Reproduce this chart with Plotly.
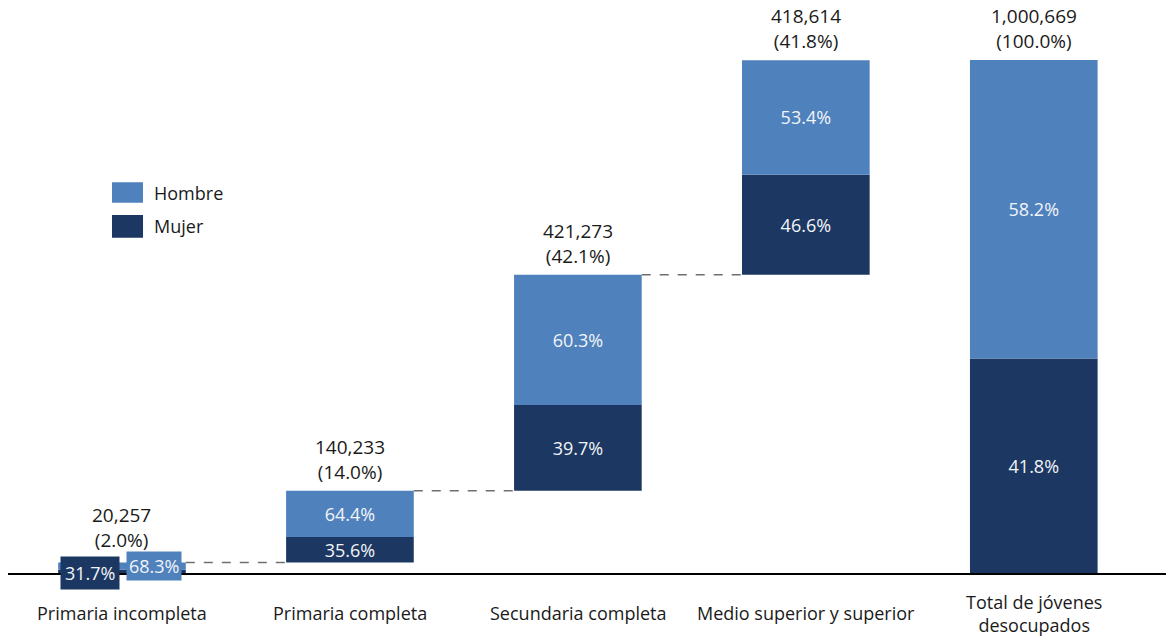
import plotly.graph_objects as go

categories = ["Primaria incompleta", "Primaria completa", "Secundaria completa",
              "Medio superior y superior", "Total de jóvenes<br>desocupados"]
totals = [20257, 140233, 421273, 418614, 1000669]
share_of_total = [2.0, 14.0, 42.1, 41.8, 100.0]
mujer_pct = [31.7, 35.6, 39.7, 46.6, 41.8]
hombre_pct = [68.3, 64.4, 60.3, 53.4, 58.2]

LIGHT = "#4F81BD"
DARK = "#1C3862"
FONT = "Open Sans"
TXT = "#1a1a1a"
INTXT = "#f2f4f8"
BW = 0.56

n = len(categories)
xs = list(range(n))

# waterfall bases: running sum for the components, zero for the total
bases = []
run = 0
for i in range(n):
    if i == n - 1:
        bases.append(0)
    else:
        bases.append(run)
        run += totals[i]

mujer_vals = [t * p / 100 for t, p in zip(totals, mujer_pct)]
hombre_vals = [t * p / 100 for t, p in zip(totals, hombre_pct)]
hombre_base = [b + m for b, m in zip(bases, mujer_vals)]
tops = [b + t for b, t in zip(bases, totals)]

fig = go.Figure()
fig.add_trace(go.Bar(
    x=xs, y=mujer_vals, base=bases, width=BW, name="Mujer",
    marker=dict(color=DARK, line=dict(width=0)),
    text=[f"{p:.1f}%" for p in mujer_pct],
    textposition=["none"] + ["inside"] * (n - 1),
    insidetextanchor="middle",
    textfont=dict(color=INTXT, size=18, family=FONT),
    showlegend=False, hoverinfo="skip",
))
fig.add_trace(go.Bar(
    x=xs, y=hombre_vals, base=hombre_base, width=BW, name="Hombre",
    marker=dict(color=LIGHT, line=dict(width=0)),
    text=[f"{p:.1f}%" for p in hombre_pct],
    textposition=["none"] + ["inside"] * (n - 1),
    insidetextanchor="middle",
    textfont=dict(color=INTXT, size=18, family=FONT),
    showlegend=False, hoverinfo="skip",
))

annotations = []
shapes = []

# labels above each bar
for i in range(n):
    annotations.append(dict(
        x=xs[i], y=tops[i], xref="x", yref="y", yanchor="bottom",
        text=f"{totals[i]:,}<br>({share_of_total[i]:.1f}%)",
        showarrow=False, yshift=8 if i == 0 else 4,
        font=dict(size=19, family=FONT, color=TXT),
    ))

# category labels
for i in range(n):
    annotations.append(dict(
        x=xs[i], y=-0.07, xref="x", yref="paper", yanchor="middle",
        text=categories[i], showarrow=False,
        font=dict(size=18, family=FONT, color=TXT),
    ))

# small first bar: boxed labels
annotations.append(dict(
    x=xs[0] - BW / 4, y=0, xref="x", yref="y", yanchor="middle",
    text=f"{mujer_pct[0]:.1f}%", showarrow=False, bgcolor=DARK, borderpad=4,
    font=dict(size=18, family=FONT, color=INTXT),
))
annotations.append(dict(
    x=xs[0] + BW / 4, y=totals[0], xref="x", yref="y", yanchor="middle",
    yshift=-3, text=f"{hombre_pct[0]:.1f}%", showarrow=False, bgcolor=LIGHT,
    borderpad=2, font=dict(size=18, family=FONT, color=INTXT),
))

# dashed connectors
for i in range(n - 2):
    shapes.append(dict(
        type="line", xref="x", yref="y",
        x0=xs[i] + BW / 2, x1=xs[i + 1] - BW / 2, y0=tops[i], y1=tops[i],
        line=dict(color="#6f6f6f", width=1.5, dash="dash"),
    ))

# manual legend
leg = [("Hombre", LIGHT, 0.682, 0.646), ("Mujer", DARK, 0.625, 0.585)]
for name, col, y1, y0 in leg:
    shapes.append(dict(type="rect", xref="paper", yref="paper",
                       x0=0.0898, x1=0.1166, y0=y0, y1=y1,
                       fillcolor=col, line=dict(width=0)))
    annotations.append(dict(x=0.1244, y=(y0 + y1) / 2, xref="paper", yref="paper",
                            xanchor="left", yanchor="middle", text=name,
                            showarrow=False,
                            font=dict(size=18, family=FONT, color=TXT)))

fig.update_layout(
    width=1166, height=641,
    margin=dict(l=8, r=0, t=0, b=68),
    plot_bgcolor="white", paper_bgcolor="white",
    barmode="overlay",
    xaxis=dict(range=[-0.5, 4.58], showticklabels=False, showgrid=False,
               zeroline=False, showline=True, linecolor="black", linewidth=2,
               ticks=""),
    yaxis=dict(range=[0, 1117700], visible=False, showgrid=False, zeroline=False),
    annotations=annotations, shapes=shapes,
    uniformtext=dict(minsize=18, mode="show"),
    showlegend=False,
)

fig.write_html("out.html", config={"displayModeBar": False},
               post_script="document.body.style.margin='0px';document.body.style.overflow='hidden';")
